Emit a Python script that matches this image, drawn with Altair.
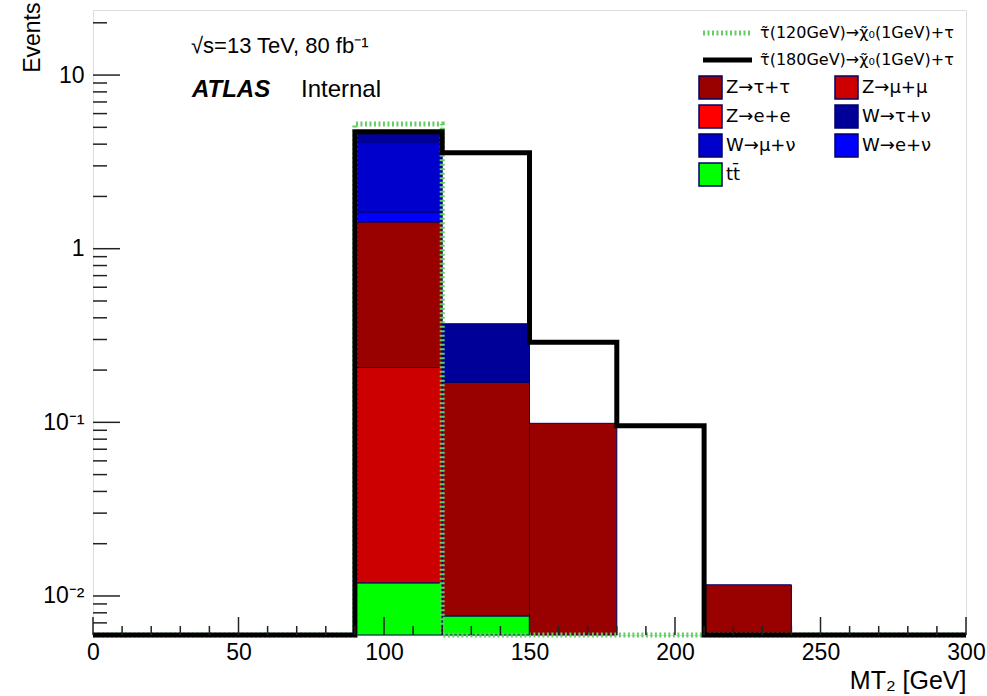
import json
import altair as alt
import pandas as pd

# ---------------- data ----------------
bin_edges = [0, 30, 60, 90, 120, 150, 180, 210, 240, 270, 300]

legend_samples = ["Z→τ+τ", "Z→μ+μ", "Z→e+e", "W→τ+ν", "W→μ+ν", "W→e+ν", "tt̄"]
legend_colors = ["#990000", "#cc0000", "#ff0000", "#000099", "#0000cc", "#0000ff", "#00ff00"]
stack_order = ["tt̄", "Z→e+e", "Z→μ+μ", "Z→τ+τ", "W→e+ν", "W→μ+ν", "W→τ+ν"]

z_tautau = [0, 0, 0, 1.22, 0.162, 0.0987, 0, 0.0116, 0, 0]
z_mumu   = [0, 0, 0, 0.195, 0, 0, 0, 0, 0, 0]
z_ee     = [0, 0, 0, 0, 0, 0, 0, 0, 0, 0]
w_taunu  = [0, 0, 0, 0.46, 0.200, 0, 0, 0, 0, 0]
w_munu   = [0, 0, 0, 2.50, 0, 0, 0, 0, 0, 0]
w_enu    = [0, 0, 0, 0.20, 0, 0, 0, 0, 0, 0]
ttbar    = [0, 0, 0, 0.0119, 0.00767, 0, 0, 0, 0, 0]

signal_names = ["τ̃(120GeV)→χ̃₀(1GeV)+τ", "τ̃(180GeV)→χ̃₀(1GeV)+τ"]
signal_colors = ["#66cc66", "#000000"]
signal_dashes = [[2, 2.5], [1, 0]]
sig_120 = [0, 0, 0, 5.23, 0, 0, 0, 0, 0, 0]
sig_180 = [0, 0, 0, 4.72, 3.57, 0.289, 0.0957, 0, 0, 0]

x_tick_values = [0, 50, 100, 150, 200, 250, 300]
x_minor_values = [10, 20, 30, 40, 60, 70, 80, 90, 110, 120, 130, 140, 160, 170, 180, 190,
                  210, 220, 230, 240, 260, 270, 280, 290]
y_tick_values = [0.01, 0.1, 1, 10]
y_tick_labels = ["10⁻²", "10⁻¹", "1", "10"]
y_minor_values = [0.007, 0.008, 0.009,
                  0.02, 0.03, 0.04, 0.05, 0.06, 0.07, 0.08, 0.09,
                  0.2, 0.3, 0.4, 0.5, 0.6, 0.7, 0.8, 0.9,
                  2, 3, 4, 5, 6, 7, 8, 9, 20]

y_domain = [0.00596, 23.7]
y_floor = 1e-4  # zero entries, clamped to the bottom of the log axis

# ---------------- tables ----------------
series = {"Z→τ+τ": z_tautau, "Z→μ+μ": z_mumu, "Z→e+e": z_ee, "W→τ+ν": w_taunu,
          "W→μ+ν": w_munu, "W→e+ν": w_enu, "tt̄": ttbar}
rows = []
for i in range(len(bin_edges) - 1):
    cum = 0.0
    for s in stack_order:
        v = series[s][i]
        if v > 0:
            rows.append({"x": bin_edges[i], "x2": bin_edges[i + 1], "sample": s,
                         "y2": max(cum, y_floor), "y": cum + v})
            cum += v
stack_df = pd.DataFrame(rows)


def step_table(name, vals):
    yv = [max(v, y_floor) for v in vals]
    return pd.DataFrame({"x": bin_edges, "y": yv + [yv[-1]], "sample": name})


sig120_df = step_table(signal_names[0], sig_120)
sig180_df = step_table(signal_names[1], sig_180)

# legend order for a column-major 2-column grid (reads row-wise like the reference)
n_rows = 4
legend_grid_order = [legend_samples[r * 2 + c] for c in range(2) for r in range(n_rows)
                     if r * 2 + c < len(legend_samples)]
legend_grid_colors = [legend_colors[legend_samples.index(s)] for s in legend_grid_order]

W, H = 873, 625
FONT = "Liberation Sans"
SYMF = "DejaVu Sans"

xs = alt.Scale(domain=[0, 300], nice=False, zero=False)
ys = alt.Scale(type="log", domain=y_domain, clamp=True, nice=False)

label_expr = "%s[round(log(datum.value)/LN10)+2]" % json.dumps(y_tick_labels, ensure_ascii=False)

x_axis = alt.Axis(values=x_tick_values, ticks=False, domain=False, grid=False,
                  labelFontSize=23, labelFont=FONT, labelColor="black", labelPadding=6,
                  labelFlush=False, labelOverlap=False,
                  title="MT₂ [GeV]", titleFontSize=25, titleFont=FONT, titleColor="black",
                  titleFontWeight="normal", titleX=W, titleY=53, titleAlign="right",
                  titleBaseline="alphabetic")
y_axis = alt.Axis(values=y_tick_values, ticks=False, domain=False, grid=False,
                  labelExpr=label_expr, labelFontSize=23, labelFont=FONT,
                  labelColor="black", labelPadding=9, labelFlush=False,
                  title="Events", titleFontSize=23, titleFont=FONT, titleColor="black",
                  titleFontWeight="normal", titleAngle=-90, titleX=-61, titleY=-8,
                  titleAlign="right", titleBaseline="middle")

fill_legend = alt.Legend(orient="none", legendX=605, legendY=65, columns=2, title=None,
                         symbolType="square", symbolSize=529, labelFontSize=18, labelFont=SYMF,
                         labelColor="black", rowPadding=0, columnPadding=36, labelOffset=3,
                         symbolStrokeColor="#000066", symbolStrokeWidth=1.5, padding=0,
                         labelLimit=200)

stack = alt.Chart(stack_df).mark_rect(stroke="#000066", strokeWidth=1).encode(
    x=alt.X("x:Q", scale=xs, axis=x_axis),
    x2="x2:Q",
    y=alt.Y("y:Q", scale=ys, axis=y_axis),
    y2="y2:Q",
    fill=alt.Fill("sample:N", scale=alt.Scale(domain=legend_grid_order, range=legend_grid_colors),
                  legend=fill_legend),
)

stroke_scale = alt.Scale(domain=signal_names, range=signal_colors)
dash_scale = alt.Scale(domain=signal_names, range=signal_dashes)


def sig_layer(df):
    return alt.Chart(df).mark_line(interpolate="step-after", strokeWidth=5).encode(
        x=alt.X("x:Q", scale=xs, axis=x_axis),
        y=alt.Y("y:Q", scale=ys, axis=y_axis),
        stroke=alt.Stroke("sample:N", scale=stroke_scale, legend=None),
        strokeDash=alt.StrokeDash("sample:N", scale=dash_scale, legend=None),
        order="x:Q",
    )


green_line = sig_layer(sig120_df)
black_line = sig_layer(sig180_df)

# hand-placed signal legend (line sample + label), styled through the same scales
sig_legend_rows = [23, 50]
sig_legend_layers = []
for name, yy in zip(signal_names, sig_legend_rows):
    d = pd.DataFrame({"sample": [name]})
    sig_legend_layers.append(
        alt.Chart(d).mark_rule(strokeWidth=5).encode(
            x=alt.value(610), x2=alt.value(659), y=alt.value(yy),
            stroke=alt.Stroke("sample:N", scale=stroke_scale, legend=None),
            strokeDash=alt.StrokeDash("sample:N", scale=dash_scale, legend=None)))
    sig_legend_layers.append(
        alt.Chart(d).mark_text(align="left", baseline="middle", fontSize=16, font=SYMF,
                               color="black").encode(
            text="sample:N", x=alt.value(667), y=alt.value(yy)))

tick_color = "#222222"
x_major = alt.Chart(pd.DataFrame({"x": x_tick_values})).mark_rule(color=tick_color, strokeWidth=1.5).encode(
    x=alt.X("x:Q", scale=xs, axis=x_axis), y=alt.value(H - 18), y2=alt.value(H))
x_minor = alt.Chart(pd.DataFrame({"x": x_minor_values})).mark_rule(color=tick_color, strokeWidth=1.5).encode(
    x=alt.X("x:Q", scale=xs, axis=x_axis), y=alt.value(H - 9), y2=alt.value(H))
y_major = alt.Chart(pd.DataFrame({"y": y_tick_values})).mark_rule(color=tick_color, strokeWidth=1.5).encode(
    y=alt.Y("y:Q", scale=ys, axis=y_axis), x=alt.value(0), x2=alt.value(27))
y_minor = alt.Chart(pd.DataFrame({"y": y_minor_values})).mark_rule(color=tick_color, strokeWidth=1.5).encode(
    y=alt.Y("y:Q", scale=ys, axis=y_axis), x=alt.value(0), x2=alt.value(14))

dummy = pd.DataFrame({"a": [0]})
txt_lumi = alt.Chart(dummy).mark_text(align="left", baseline="alphabetic", fontSize=22, font=FONT,
                                      color="black").encode(
    text=alt.value("√s=13 TeV, 80 fb⁻¹"), x=alt.value(98), y=alt.value(43))
txt_atlas = alt.Chart(dummy).mark_text(align="left", baseline="alphabetic", fontSize=24, font=FONT,
                                       fontWeight="bold", fontStyle="italic", color="black").encode(
    text=alt.value("ATLAS"), x=alt.value(99), y=alt.value(87))
txt_internal = alt.Chart(dummy).mark_text(align="left", baseline="alphabetic", fontSize=24, font=FONT,
                                          color="black").encode(
    text=alt.value("Internal"), x=alt.value(208), y=alt.value(87))

chart = alt.layer(
    stack, green_line, black_line, x_major, x_minor, y_major, y_minor,
    *sig_legend_layers, txt_lumi, txt_atlas, txt_internal
).properties(
    width=W, height=H,
    autosize=alt.AutoSizeParams(type="none"),
    padding={"left": 93, "top": 10, "right": 21, "bottom": 61},
    background="white",
).configure_view(
    stroke="#111111", strokeWidth=2
).configure(font=FONT)

chart.save("out.html", embed_options={"renderer": "svg", "actions": False})
